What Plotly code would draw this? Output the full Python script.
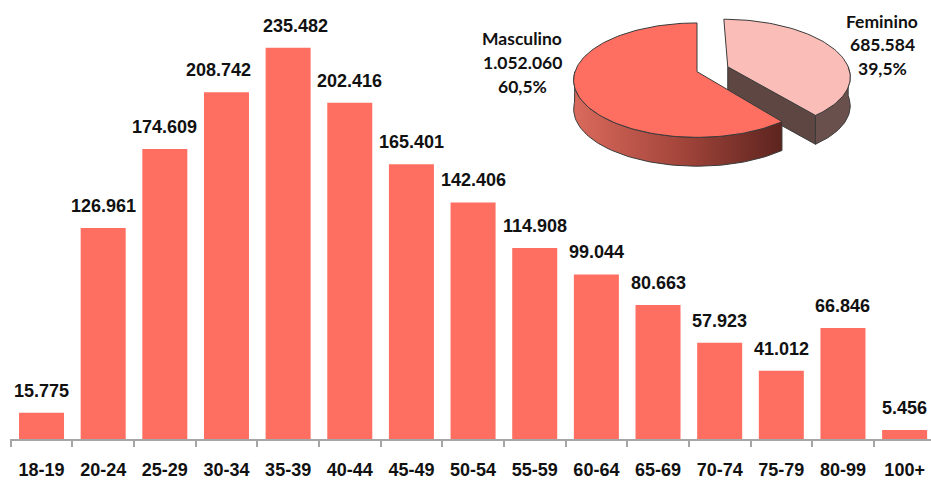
import numpy as np
import plotly.graph_objects as go

# ---------------- data ----------------
age_groups = ["18-19", "20-24", "25-29", "30-34", "35-39", "40-44", "45-49", "50-54",
              "55-59", "60-64", "65-69", "70-74", "75-79", "80-99", "100+"]
voters = [15775, 126961, 174609, 208742, 235482, 202416, 165401, 142406,
          114908, 99044, 80663, 57923, 41012, 66846, 5456]

sex_labels = ["Masculino", "Feminino"]
sex_values = [1052060, 685584]

# ---------------- styles / layout params ----------------
W, H = 931, 480
ML, MT, MB = 10, 0, 39
PX_PER_UNIT = 599.2                      # value units per pixel on y
BAR_COLOR = "#FF6F61"
AXIS_GRAY = "#A6A6A6"
TXT = "#111111"
BAR_FONT = "Arial, Liberation Sans, sans-serif"
PIE_FONT = "Lato, Open Sans, sans-serif"

# pie (3D look) geometry, in pixel units of the overlay axes
CX, CY = 697, 72
RX, RYA, PERSP = 122, 56.2, 0.148
DEPTH = 29
EXPLODE = 0.27
LINE_C = "#3A3A3A"
label_nudge = {"235.482": 7, "208.742": -8}


def fmt_int(v):
    return f"{v:,}".replace(",", ".")


def fmt_pct(p):
    return f"{p:.1f}%".replace(".", ",")


fig = go.Figure()

# ---------------- bars ----------------
fig.add_trace(go.Bar(
    x=age_groups, y=voters, marker=dict(color=BAR_COLOR, line=dict(width=0)),
    width=0.73, hoverinfo="skip", showlegend=False,
))

for cat, v in zip(age_groups, voters):
    s = fmt_int(v)
    fig.add_annotation(
        x=cat, y=v, xref="x", yref="y", text=f"<b>{s}</b>", showarrow=False,
        yanchor="bottom", yshift=10, xshift=label_nudge.get(s, 0),
        font=dict(family=BAR_FONT, size=18, color=TXT),
    )

# ---------------- 3D-looking pie from the data ----------------
total = sum(sex_values)
fem_i, mas_i = 1, 0
fem_span = 360.0 * sex_values[fem_i] / total
bis = np.radians(fem_span / 2)
fem_du, fem_dw = EXPLODE * np.sin(bis), -EXPLODE * np.cos(bis)


def proj(theta_deg, h=0.0, du=0.0, dw=0.0):
    t = np.radians(np.asarray(theta_deg, dtype=float))
    u = np.sin(t) + du
    w = -np.cos(t) + dw
    f = 1.0 / (1.0 - PERSP * w)
    return CX + RX * u * f, CY + RYA * w * f + h


def apex(h=0.0, du=0.0, dw=0.0):
    f = 1.0 / (1.0 - PERSP * dw)
    return CX + RX * du * f, CY + RYA * dw * f + h


def poly(xs, ys, fillcolor=None, gradient=None):
    kw = dict(x=list(xs), y=list(ys), mode="lines", fill="toself",
              line=dict(color=LINE_C, width=1), xaxis="x2", yaxis="y2",
              hoverinfo="skip", showlegend=False)
    if gradient is not None:
        kw["fillgradient"] = gradient
    else:
        kw["fillcolor"] = fillcolor
    fig.add_trace(go.Scatter(**kw))


# Feminino (exploded)
ax0, ay0 = apex(0, fem_du, fem_dw)
ax1, ay1 = apex(DEPTH, fem_du, fem_dw)
rx0, ry0 = proj(fem_span, 0, fem_du, fem_dw)
rx1, ry1 = proj(fem_span, DEPTH, fem_du, fem_dw)
poly([ax0, rx0, rx1, ax1, ax0], [ay0, ry0, ry1, ay1, ay0], "#5E4743")

th = np.linspace(90, fem_span, 40)
tx, ty = proj(th, 0, fem_du, fem_dw)
bx, by = proj(th[::-1], DEPTH, fem_du, fem_dw)
poly(np.r_[tx, bx, tx[:1]], np.r_[ty, by, ty[:1]], "#6A504C")

th = np.linspace(0, fem_span, 80)
tx, ty = proj(th, 0, fem_du, fem_dw)
poly(np.r_[ax0, tx, ax0], np.r_[ay0, ty, ay0], "#FBBDB7")

# Masculino
th = np.linspace(fem_span, 270, 80)
tx, ty = proj(th)
bx, by = proj(th[::-1], DEPTH)
poly(np.r_[tx, bx, tx[:1]], np.r_[ty, by, ty[:1]],
     gradient=dict(type="horizontal",
                   colorscale=[[0, "#DA6A5C"], [0.5, "#A5463C"], [1, "#5C241E"]]))

th = np.linspace(fem_span, 360, 120)
tx, ty = proj(th)
mx, my = apex()
poly(np.r_[mx, tx, mx], np.r_[my, ty, my], BAR_COLOR)

# pie labels
pie_label_pos = {"Masculino": (522, [39, 63, 87]), "Feminino": (882, [22, 45, 69])}
for lab, val in zip(sex_labels, sex_values):
    x0, ys = pie_label_pos[lab]
    lines = [lab, fmt_int(val), fmt_pct(100.0 * val / total)]
    for line, yy in zip(lines, ys):
        fig.add_annotation(
            x=x0, y=yy, xref="x2", yref="y2", text=f"<b>{line}</b>", showarrow=False,
            xanchor="center", yanchor="middle",
            font=dict(family=PIE_FONT, size=17.5, color=TXT),
        )

# ---------------- layout ----------------
plot_h = H - MT - MB
plot_w = W - ML
cat_w = 61.65
x0r = -0.5 - (10.7 - ML) / cat_w
x1r = x0r + plot_w / cat_w

fig.update_layout(
    width=W, height=H,
    margin=dict(l=ML, r=0, t=MT, b=MB, pad=0),
    paper_bgcolor="white", plot_bgcolor="white",
    bargap=0.27,
    xaxis=dict(
        type="category", range=[x0r, x1r], showgrid=False, zeroline=False,
        showline=True, linecolor=AXIS_GRAY, linewidth=1.5,
        ticks="outside", tickson="boundaries", ticklen=6, tickcolor=AXIS_GRAY, tickwidth=1.5,
        tickfont=dict(family=BAR_FONT, size=18, color=TXT, weight="bold"),
        ticklabelstandoff=14,
    ),
    yaxis=dict(range=[0, plot_h * PX_PER_UNIT], visible=False, showgrid=False, zeroline=False),
    xaxis2=dict(overlaying="x", anchor="y2", range=[ML, W], visible=False, fixedrange=True),
    yaxis2=dict(overlaying="y", anchor="x2", range=[MT + plot_h, MT], visible=False, fixedrange=True),
)

fig.write_html("out.html", config={"displayModeBar": False},
               post_script="document.body.style.margin='0';")
